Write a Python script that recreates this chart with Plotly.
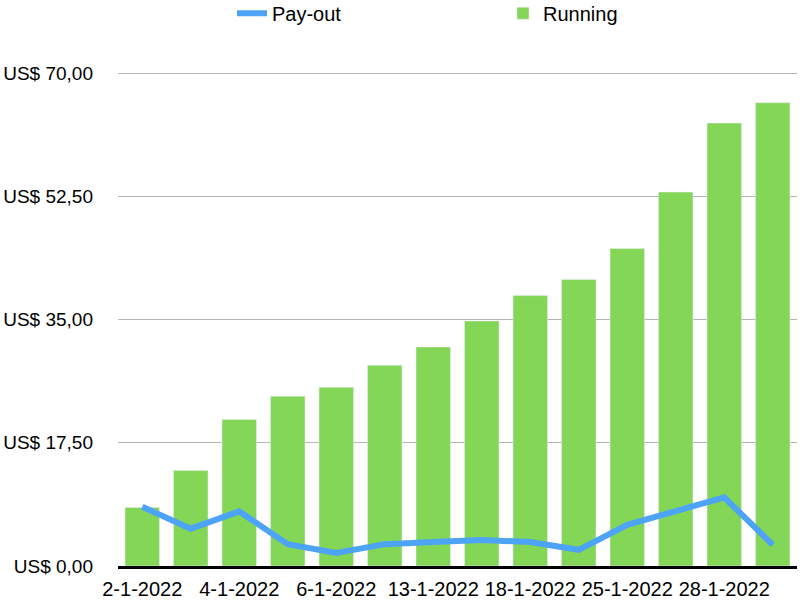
import plotly.graph_objects as go

dates = ['2-1-2022', '3-1-2022', '4-1-2022', '5-1-2022', '6-1-2022', '10-1-2022', '13-1-2022',
         '17-1-2022', '18-1-2022', '20-1-2022', '25-1-2022', '27-1-2022', '28-1-2022', '31-1-2022']
payout = [8.4, 5.3, 7.75, 3.1, 1.85, 3.1, 3.4, 3.7, 3.4, 2.3, 5.85, 7.9, 9.75, 3.0]
running = [8.3, 13.55, 20.8, 24.1, 25.4, 28.5, 31.1, 34.8, 38.4, 40.7, 45.1, 53.1, 62.9, 65.8]
y_ticks = [0, 17.5, 35, 52.5, 70]
y_labels = ['US$ ' + f'{v:.2f}'.replace('.', ',') for v in y_ticks]

fig = go.Figure()
fig.add_trace(go.Bar(x=dates, y=running, name='Running', marker_color='#84d657',
                     legendrank=2))
fig.add_trace(go.Scatter(x=dates, y=payout, name='Pay-out', mode='lines',
                         line=dict(color='#4da3f5', width=6), legendrank=1))

fig.update_layout(
    width=800, height=600,
    margin=dict(l=118, r=3, t=71, b=34, autoexpand=False),
    plot_bgcolor='white', paper_bgcolor='white',
    font=dict(family='Liberation Sans, Arial', size=20, color='black'),
    bargap=0.29,
    showlegend=True,
    legend=dict(orientation='h', xref='container', yref='container',
                x=0.29, xanchor='left', y=0.978, yanchor='middle',
                entrywidth=226, entrywidthmode='pixels', font=dict(size=20)),
    xaxis=dict(type='category', tickvals=dates[::2], showline=True, linecolor='black',
               linewidth=3, ticks='', showgrid=False, tickfont=dict(size=20),
               ticklabelstandoff=3),
    yaxis=dict(range=[0, 70.3], tickvals=y_ticks, ticktext=y_labels,
               showgrid=True, gridcolor='#b5b5b5', gridwidth=1, zeroline=False,
               showline=False, ticks='', ticklabelstandoff=24, tickfont=dict(size=19)),
)

# drop the browser's default 8px body margin so the chart sits at the page corner
fig.write_html("out.html", config={'displayModeBar': False},
               post_script="document.body.style.margin='0';")
